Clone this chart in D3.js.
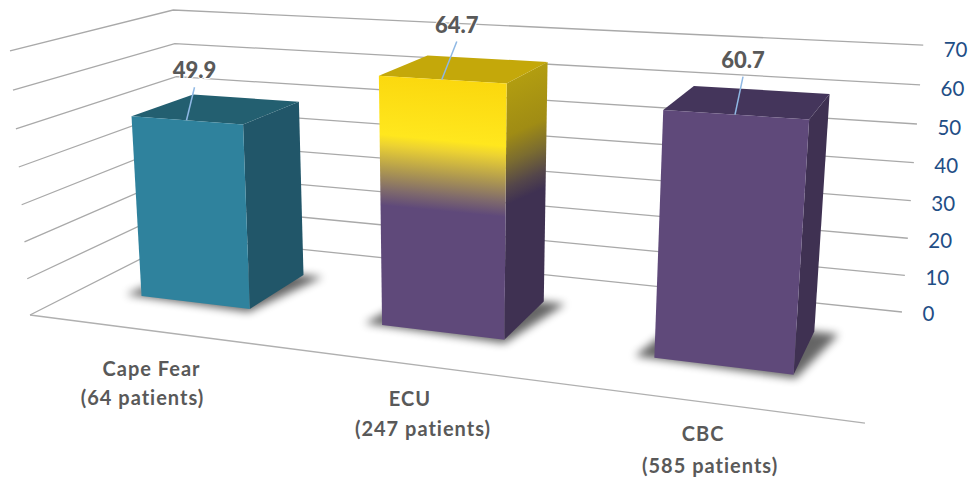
<!DOCTYPE html>
<html>
<head>
<meta charset="utf-8">
<script src="https://cdn.jsdelivr.net/npm/d3@7"></script>
<style>
html,body{margin:0;padding:0;background:#fff}
svg{display:block}
text{font-family:Lato,"Open Sans",sans-serif}
</style>
</head>
<body>
<svg id="c" width="969" height="482"></svg>
<script>
// ---- data ----
const categories = ["Cape Fear", "ECU", "CBC"];
const patientNotes = ["(64 patients)", "(247 patients)", "(585 patients)"];
const values = [49.9, 64.7, 60.7];
const axisTicks = [0, 10, 20, 30, 40, 50, 60, 70];

// ---- styles per bar ----
const frontFill = ["#2f829d", "url(#ecuFront)", "#5f497a"];
const sideFill = ["#215669", "url(#ecuSide)", "#3f3152"];
const topFill = ["#235f70", "#c4a80a", "#44355b"];

// ---- layout: nudges of text relative to projected anchors ----
const leaderDx = [8, 15, 8], leaderDy = [-33, -38, -38];
const catNudge = [[4, 39], [4, 36], [2, 33]];
const noteNudge = [[-5, 68], [17, 66], [9, 65]];

// ---- camera: projective map of the unit chart box (X across, Z depth, T height) ----
const cam = {a:678.5,b:185.7,p:-20.45,c:30, d:31.5,e:-37.2,q:-266.5,f:315, g:-0.1809,h:0.1723,r:-0.045};
const project = (X, Z, T) => {
  const w = cam.g*X + cam.h*Z + cam.r*T + 1;
  return [(cam.a*X + cam.b*Z + cam.p*T + cam.c)/w, (cam.d*X + cam.e*Z + cam.q*T + cam.f)/w];
};

const yScale = d3.scaleLinear().domain([0, 70]).range([0, 1]);
const xBand = d3.scaleBand().domain(categories).range([0, 1]).paddingInner(0.535).paddingOuter(0.2675);
const zBand = d3.scaleBand().domain(["depth"]).range([0.01, 1]).paddingInner(0).paddingOuter(0.72);

const svg = d3.select("#c");
const line = d3.line();
const closed = d3.line().curve(d3.curveLinearClosed);
const defs = svg.append("defs");

defs.append("filter").attr("id", "blur")
  .attr("x", "-30%").attr("y", "-50%").attr("width", "160%").attr("height", "200%")
  .append("feGaussianBlur").attr("stdDeviation", 4.5);

// ---- gradients of the ECU bar, aligned with its projected faces ----
function gradient(id, from, to, isoDir, stops) {
  const len = Math.hypot(isoDir[0], isoDir[1]);
  const n = [-isoDir[1]/len, isoDir[0]/len];
  const proj = (to[0]-from[0])*n[0] + (to[1]-from[1])*n[1];
  const g = defs.append("linearGradient").attr("id", id).attr("gradientUnits", "userSpaceOnUse")
    .attr("x1", from[0]).attr("y1", from[1])
    .attr("x2", from[0]+n[0]*proj).attr("y2", from[1]+n[1]*proj);
  stops.forEach(s => g.append("stop").attr("offset", s[0]).attr("stop-color", s[1]));
}
{
  const c = categories[1], T = yScale(values[1]);
  const x0 = xBand(c), x1 = x0 + xBand.bandwidth();
  const z0 = zBand("depth"), z1 = z0 + zBand.bandwidth();
  gradient("ecuFront", project((x0+x1)/2, z0, T), project((x0+x1)/2, z0, 0), [126, 12], [
    [0, "#fbd80e"], [0.24, "#ffe71e"], [0.28, "#ecd232"], [0.38, "#ae9850"], [0.46, "#7f6a6c"], [0.52, "#5f497a"], [1, "#5f497a"]
  ]);
  gradient("ecuSide", project(x1, (z0+z1)/2, T), project(x1, (z0+z1)/2, 0), [40, -18], [
    [0, "#b29d10"], [0.22, "#a08c14"], [0.33, "#7b6c30"], [0.43, "#54464a"], [0.5, "#3f3152"], [1, "#3f3152"]
  ]);
}

// ---- wall gridlines ----
svg.append("g").selectAll("path").data(axisTicks).join("path")
  .attr("d", v => {
    const t = yScale(v);
    return line([project(0, 0, t), project(0, 1, t), project(1, 1, t)]);
  })
  .attr("fill", "none").attr("stroke", "#a9a9a9").attr("stroke-width", 1.3);

// floor front edge
svg.append("path").attr("d", line([project(0, 0, 0), project(1, 0, 0)]))
  .attr("fill", "none").attr("stroke", "#b0b0b0").attr("stroke-width", 1.3);

// ---- value-axis labels ----
svg.append("g").selectAll("text").data(axisTicks).join("text")
  .attr("x", v => project(1, 1, yScale(v))[0] + 20.5)
  .attr("y", v => project(1, 1, yScale(v))[1] + 9 + 3*yScale(v))
  .attr("fill", "#1f4e86").attr("font-size", 20.5)
  .text(d => d);

// ---- bars ----
const bars = svg.append("g").selectAll("g").data(categories).join("g");

bars.each(function(c, i) {
  const g = d3.select(this);
  const x0 = xBand(c), x1 = x0 + xBand.bandwidth();
  const z0 = zBand("depth"), z1 = z0 + zBand.bandwidth();
  const T = yScale(values[i]);
  g.append("path")
    .attr("d", closed([project(x0-0.022, z0-0.004, 0), project(x1+0.004, z0-0.03, 0), project(x1+0.028, z1, 0), project(x0, z1, 0)]))
    .attr("fill", "#000").attr("opacity", 0.6).attr("filter", "url(#blur)");
  g.append("path")
    .attr("d", closed([project(x1, z0, 0), project(x1, z1, 0), project(x1, z1, T), project(x1, z0, T)]))
    .attr("fill", sideFill[i]);
  g.append("path")
    .attr("d", closed([project(x0, z0, T), project(x1, z0, T), project(x1, z1, T), project(x0, z1, T)]))
    .attr("fill", topFill[i]);
  g.append("path")
    .attr("d", closed([project(x0, z0, 0), project(x1, z0, 0), project(x1, z0, T), project(x0, z0, T)]))
    .attr("fill", frontFill[i]);

  // leader + value label
  const end = project((x0+x1)/2, z0, T);
  const start = [end[0]+leaderDx[i], end[1]+leaderDy[i]];
  g.append("path").attr("d", line([start, end]))
    .attr("stroke", "#8fb8e4").attr("stroke-width", 1.5).attr("fill", "none");
  g.append("text")
    .attr("x", start[0]).attr("y", start[1]-9)
    .attr("text-anchor", "middle").attr("font-weight", 900).attr("font-size", 22)
    .attr("fill", "#595959").attr("stroke", "#fff").attr("stroke-width", 2).attr("paint-order", "stroke")
    .text(values[i].toFixed(1));

  // category labels
  const base = project((x0+x1)/2, 0, 0);
  g.append("text")
    .attr("x", base[0]+catNudge[i][0]).attr("y", base[1]+catNudge[i][1]+6.5)
    .attr("text-anchor", "middle").attr("font-weight", 700).attr("font-size", 20)
    .attr("letter-spacing", 1).attr("fill", "#595959").text(c);
  g.append("text")
    .attr("x", base[0]+noteNudge[i][0]).attr("y", base[1]+noteNudge[i][1]+6.5)
    .attr("text-anchor", "middle").attr("font-weight", 700).attr("font-size", 20)
    .attr("letter-spacing", 1).attr("fill", "#595959").text(patientNotes[i]);
});
</script>
</body>
</html>
